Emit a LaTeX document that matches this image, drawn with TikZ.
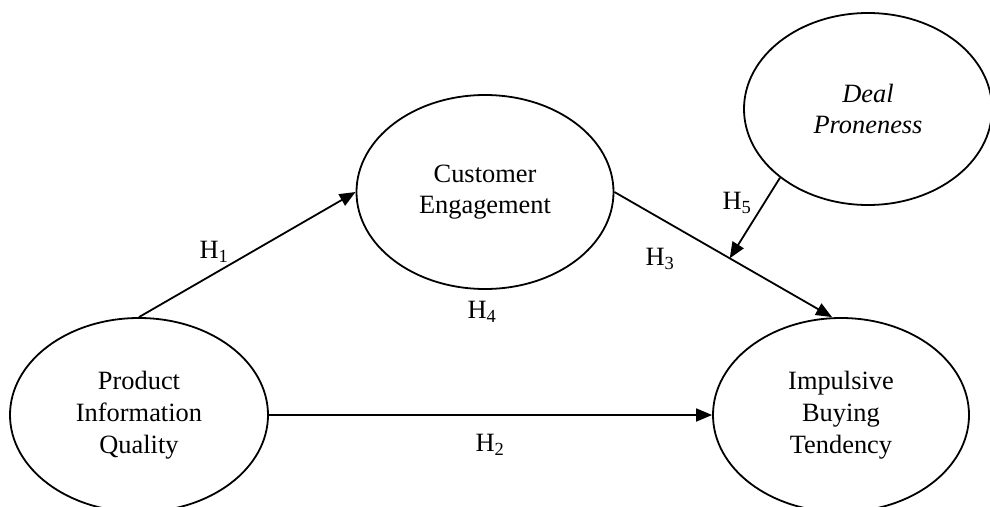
\documentclass[tikz,border=0pt]{standalone}
\usepackage{fontspec}
\setmainfont{Liberation Serif}
\usetikzlibrary{shapes.geometric,arrows.meta,calc}

\tikzset{
  construct/.style={ellipse, draw, line width=1.8pt, inner sep=0pt,
    align=center, font=\fontsize{26.4}{31.7}\selectfont},
  path arrow/.style={line width=1.8pt, -{Triangle[length=16pt,width=13pt]}},
  hyp/.style={font=\fontsize{26.4}{31.7}\selectfont, inner sep=0pt}
}

\begin{document}
\begin{tikzpicture}[x=1pt,y=-1pt]
  \useasboundingbox (0,0) rectangle (990,506);
  \clip (0,0) rectangle (990,506);

  % constructs
  \node[construct, minimum width=258pt, minimum height=194pt] (piq) at (139,415)
    {Product\\Information\\Quality};
  \node[construct, minimum width=257pt, minimum height=194pt] (ce) at (485,192)
    {Customer\\Engagement};
  \node[construct, minimum width=248pt, minimum height=192pt] (dp) at (868,109)
    {\itshape Deal\\\itshape Proneness};
  \node[construct, minimum width=256pt, minimum height=194pt] (ibt) at (841,415)
    {Impulsive\\Buying\\Tendency};

  % structural paths
  \coordinate (ibttop) at ([xshift=-9pt]ibt.north);
  \draw[path arrow] (piq.north) -- (ce.west);
  \draw[path arrow] (piq.east) -- (ibt.west);
  \draw[path arrow] (ce.east) -- (ibttop);

  % moderation onto the H3 path
  \coordinate (mod) at ($(ce.east)!0.53!(ibttop)$);
  \draw[path arrow] (dp.218.7) -- (mod);

  % hypothesis labels
  \node[hyp] (h1) at (214,252) {H\textsubscript{1}};
  \node[hyp] (h2) at (490,445) {H\textsubscript{2}};
  \node[hyp] (h3) at (660,259) {H\textsubscript{3}};
  \node[hyp] (h4) at (482,312) {H\textsubscript{4}};
  \node[hyp] (h5) at (737,203) {H\textsubscript{5}};
\end{tikzpicture}
\end{document}
